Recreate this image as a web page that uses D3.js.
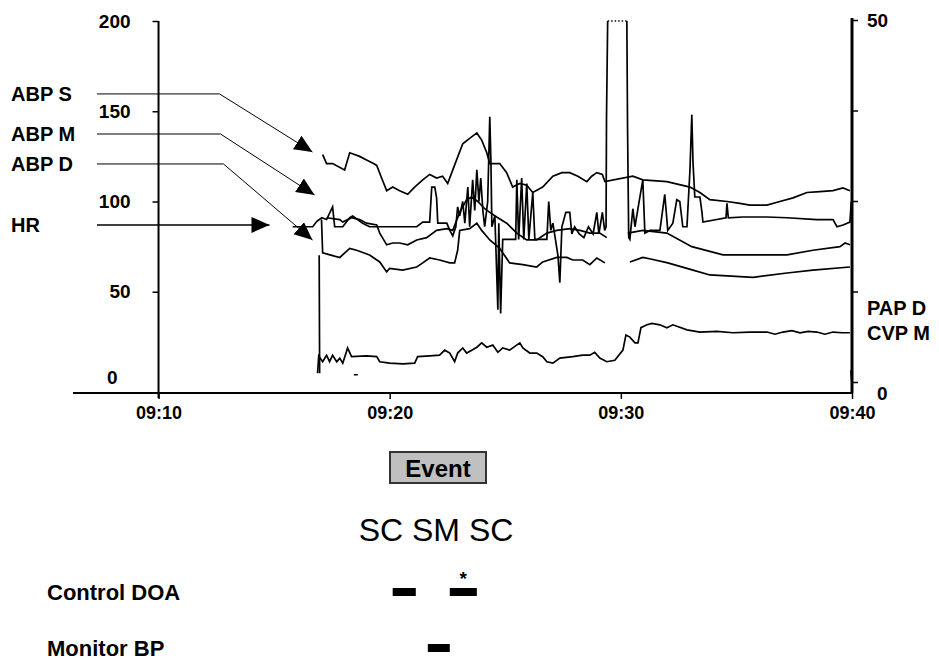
<!DOCTYPE html>
<html>
<head>
<meta charset="utf-8">
<script src="https://cdn.jsdelivr.net/npm/d3@7"></script>
<style>
  body { margin: 0; background: #fff; }
  svg text { font-family: "Liberation Sans", Arial, sans-serif; fill: #000; }
</style>
</head>
<body>
<svg id="chart" width="939" height="660"></svg>
<script>
// times are minutes past 09:00
const xTicks = ["09:10", "09:20", "09:30", "09:40"];
const leftTicks = [0, 50, 100, 150, 200];
const rightTicks = [0, 12.5, 25, 37.5, 50];
const rightTickLabels = [0, 50];

const abpS = [[17.10,126],[17.27,121],[17.53,121],[18.05,117.5],[18.27,127],[18.48,126],[18.70,125],[19.00,123],[19.30,121],[19.44,120],[19.65,113],[19.87,106],[20.13,108],[20.43,106],[20.78,104],[21.08,108],[21.43,112],[21.73,115],[22.03,113],[22.29,114],[22.51,110],[22.73,117.5],[23.16,132],[23.46,135],[23.77,138],[23.98,134],[24.20,127],[24.33,121],[24.76,121],[25.06,116],[25.32,108],[25.63,110],[25.93,109],[26.19,105],[26.62,108],[27.06,114],[27.45,116],[27.79,116],[28.14,114],[28.53,111],[28.74,114],[28.96,116],[29.20,115],[29.31,111],[30.52,114],[30.95,112],[31.99,111],[32.99,108],[33.42,105],[33.85,101],[34.59,100],[35.15,99],[35.58,98],[36.32,98],[36.88,100],[37.45,102],[38.05,105],[38.61,105.5],[39.18,106],[39.61,107.5],[39.91,106]];

const abpM = [[17.27,91],[17.84,90],[17.97,88.6],[18.35,91],[18.70,90],[19.00,88],[19.44,87],[19.57,82.5],[19.87,76],[20.13,77],[20.43,77],[20.78,76],[21.17,78.7],[21.60,80],[22.03,84],[22.47,85],[22.73,84],[23.03,94],[23.33,101],[23.55,102.5],[23.81,100],[24.11,96],[24.33,94],[24.63,91.4],[25.06,88],[25.50,82.5],[25.93,78.7],[26.36,78.7],[26.80,82.5],[27.23,84],[27.79,85],[28.23,84],[28.66,82.5],[29.09,82.5],[29.39,80],[29.40,null],[30.29,null],[30.30,82.5],[30.95,84],[31.99,82.5],[33.07,75],[34.42,70.4],[37.19,70.4],[38.31,73],[39.48,75],[39.70,77],[39.91,76]];

const abpD = [[17.05,90],[17.10,71.5],[17.84,69],[18.27,74],[18.57,73],[19.13,70.4],[19.57,66.5],[19.87,61],[20.00,63],[20.56,62],[21.17,63.7],[21.43,66],[21.73,68.7],[22.16,67.6],[22.60,66],[22.81,66],[22.94,73],[23.03,84],[23.46,85],[23.77,88],[23.98,84],[24.33,78.7],[24.76,74],[25.19,66],[25.76,65],[26.36,63.7],[26.62,66.5],[27.23,69],[27.66,69],[27.92,67.6],[28.35,67.6],[28.66,65],[28.96,68.7],[29.31,66],[29.32,null],[30.38,null],[30.39,66.5],[30.95,69],[31.34,68],[32.03,66],[33.12,62],[33.85,59.3],[35.72,58],[37.19,60.4],[38.31,62],[39.91,63.7]];

const hr = [[15.80,86],[16.67,86],[16.85,89],[17.06,91],[17.27,90],[17.53,97],[17.62,86],[17.97,86],[18.27,91],[18.40,92],[18.83,88],[19.13,86],[21.17,86],[21.43,88.6],[21.73,88.6],[21.82,108],[21.95,108],[22.03,102],[22.08,88],[22.47,88],[22.60,84],[22.73,81],[22.86,86],[22.94,97],[23.03,92],[23.16,100],[23.25,88],[23.38,108],[23.46,86],[23.59,112],[23.68,95],[23.77,117.5],[23.86,100],[23.94,113],[24.03,95],[24.11,86],[24.24,100],[24.33,147],[24.38,122],[24.42,86],[24.55,92],[24.68,40],[24.72,88],[24.80,38],[24.89,79],[25.45,79],[25.50,112],[25.58,79],[25.71,113],[25.80,79],[25.93,110],[26.02,79],[26.19,105],[26.28,79],[26.80,79],[26.88,100],[26.97,84],[27.06,88],[27.28,70],[27.36,55],[27.45,86],[27.62,94],[27.79,94],[27.88,82],[28.00,86],[28.20,82],[28.40,80],[28.60,86],[28.80,82],[28.96,94],[29.05,82],[29.20,94],[29.30,84],[29.36,86],[29.38,147],[29.43,200],[29.44,null],[30.25,null],[30.26,200],[30.29,141],[30.34,80],[30.39,79],[30.52,96],[30.61,86],[30.74,96],[30.95,112],[31.04,82.5],[31.26,84],[31.69,84],[31.90,104],[32.03,84],[32.25,88],[32.42,101],[32.55,100],[32.68,86],[32.86,86],[32.99,117.5],[33.07,148],[33.12,122],[33.20,102.5],[33.42,102.5],[33.51,94],[33.55,88.6],[34.55,91],[34.59,99],[34.65,91],[35.28,91.4],[36.32,91.4],[37.19,91],[38.48,90],[39.18,90],[39.35,86],[39.61,87],[39.91,88.6],[39.97,100]];
// HR above the top of the scale, drawn dotted
const hrOffScale = [[29.43,200],[30.26,200]];

// right axis series
const papD = [[16.95,17.5],[16.97,1.2],[16.98,null],[18.44,null],[18.45,1.0],[18.62,1.0],[18.63,null],[39.94,null],[39.95,1.6],[39.99,0]];
const cvpM = [[16.88,1.2],[16.93,3.6],[17.10,2.8],[17.27,3.7],[17.40,2.8],[17.53,3.7],[17.71,2.8],[17.84,3.3],[17.97,2.6],[18.18,4.7],[18.35,3.5],[19.00,3.6],[19.44,3.5],[19.57,2.8],[20.00,2.6],[20.56,2.5],[21.08,2.6],[21.21,3.5],[21.73,3.6],[22.16,3.7],[22.38,4.4],[22.60,4.0],[22.81,2.8],[22.94,4.0],[23.16,4.7],[23.33,4.0],[23.55,4.4],[23.77,4.8],[23.98,5.4],[24.20,4.8],[24.46,5.1],[24.68,4.1],[24.89,4.7],[25.19,4.4],[25.63,5.4],[25.76,4.7],[26.06,4.0],[26.36,4.0],[26.62,3.5],[26.80,2.8],[27.06,2.6],[27.36,3.3],[27.92,3.5],[28.35,3.7],[28.66,3.7],[28.87,4.1],[29.09,3.3],[29.39,2.8],[29.74,3.0],[30.09,4.4],[30.22,6.5],[30.39,6.2],[30.61,5.4],[30.74,5.4],[30.87,7.5],[31.13,7.9],[31.34,8.1],[31.69,7.9],[31.99,7.5],[32.25,7.9],[32.86,7.2],[33.42,6.9],[34.16,7.0],[34.85,6.8],[35.58,6.9],[36.32,6.9],[36.67,6.6],[37.01,6.9],[37.40,7.1],[37.75,6.8],[38.10,7.0],[38.48,6.9],[38.83,6.6],[39.18,6.9],[39.57,6.8],[39.91,6.8]];

// labels pointing into the chart: label level, bend time, arrow tip (time, value)
const arrowLabels = ["ABP S", "ABP M", "ABP D", "HR"];
const arrowLevels = [159.6, 137.4, 120.8, 87];
const arrowBends = [12.64, 12.68, 12.81, null];
const arrowTips = [[16.66, 127.4], [16.75, 103.6], [16.66, 78.7], [14.8, 87]];

// event rows (start, end in minutes)
const controlDOA = [[20.13, 21.13], [22.60, 23.77]];
const monitorBP = [[21.65, 22.60]];
const starred = [1];

const svg = d3.select("#chart");

const x = d3.scaleLinear().domain([6.3, 40]).range([73, 852]);
const yL = d3.scaleLinear().domain([0, 200]).range([382, 21]);
const yR = d3.scaleLinear().domain([0, 50]).range([382, 20]);
const axisY = 393;
const parseTick = s => { const p = s.split(":"); return (+p[0] - 9) * 60 + +p[1]; };

// x axis
svg.append("line")
  .attr("x1", x(6.3)).attr("x2", x(40))
  .attr("y1", axisY).attr("y2", axisY)
  .attr("stroke", "#000").attr("stroke-width", 2);

const xAxis = svg.append("g")
  .attr("transform", `translate(0,${axisY})`)
  .call(d3.axisBottom(x)
    .tickValues(xTicks.map(parseTick))
    .tickFormat((d, i) => xTicks[i])
    .tickSize(6).tickPadding(7));
xAxis.select(".domain").remove();
xAxis.selectAll("line").attr("stroke-width", 1.5);
xAxis.selectAll("text").attr("font-size", 18).attr("font-weight", "bold");

// left axis
svg.append("line")
  .attr("x1", x(10)).attr("x2", x(10))
  .attr("y1", yL(200)).attr("y2", axisY + 5)
  .attr("stroke", "#000").attr("stroke-width", 2);

const leftAxis = svg.append("g")
  .attr("transform", `translate(${x(10)},0)`)
  .call(d3.axisLeft(yL).tickValues(leftTicks).tickSize(6).tickPadding(22));
leftAxis.select(".domain").remove();
leftAxis.selectAll("line").attr("stroke-width", 1.5).filter(d => d === 0).remove();
leftAxis.selectAll("text").attr("font-size", 19).attr("font-weight", "bold")
  .filter(d => d === 0).attr("dx", -13).attr("dy", "0.1em");

// right axis
svg.append("line")
  .attr("x1", x(40)).attr("x2", x(40))
  .attr("y1", yR(50) - 2).attr("y2", axisY)
  .attr("stroke", "#000").attr("stroke-width", 3);

const rightAxis = svg.append("g")
  .attr("transform", `translate(${x(40)},0)`)
  .call(d3.axisRight(yR).tickValues(rightTicks).tickSize(6).tickPadding(9)
    .tickFormat(d => rightTickLabels.includes(d) ? d : ""));
rightAxis.select(".domain").remove();
rightAxis.selectAll("line").attr("stroke-width", 1.5);
rightAxis.selectAll("text").attr("font-size", 19).attr("font-weight", "bold")
  .filter(d => d === 0).attr("dx", 10).attr("dy", "0.9em");

// series
const lineL = d3.line().defined(d => d[1] != null).x(d => x(d[0])).y(d => yL(d[1]));
const lineR = d3.line().defined(d => d[1] != null).x(d => x(d[0])).y(d => yR(d[1]));

[abpS, abpM, abpD, hr].forEach(s => {
  svg.append("path").datum(s)
    .attr("d", lineL)
    .attr("fill", "none").attr("stroke", "#000").attr("stroke-width", 1.7)
    .attr("stroke-linejoin", "miter");
});
[papD, cvpM].forEach(s => {
  svg.append("path").datum(s)
    .attr("d", lineR)
    .attr("fill", "none").attr("stroke", "#000").attr("stroke-width", 1.7);
});
svg.append("path").datum(hrOffScale)
  .attr("d", lineL)
  .attr("fill", "none").attr("stroke", "#000").attr("stroke-width", 1.5)
  .attr("stroke-dasharray", "1.5,2");

// arrow labels
svg.append("defs").append("marker")
  .attr("id", "head")
  .attr("markerUnits", "userSpaceOnUse")
  .attr("markerWidth", 20).attr("markerHeight", 18)
  .attr("refX", 18).attr("refY", 8)
  .attr("orient", "auto")
  .append("path").attr("d", "M0,0L18,8L0,16Z").attr("fill", "#000");

arrowLabels.forEach((name, i) => {
  const ly = yL(arrowLevels[i]);
  svg.append("text")
    .attr("x", 11).attr("y", ly)
    .attr("dy", "0.36em")
    .attr("font-size", 20).attr("font-weight", "bold")
    .text(name);
  const pts = [[97, ly]];
  if (arrowBends[i] != null) pts.push([x(arrowBends[i]), ly]);
  pts.push([x(arrowTips[i][0]), yL(arrowTips[i][1])]);
  svg.append("path")
    .attr("d", d3.line()(pts))
    .attr("fill", "none").attr("stroke", "#000")
    .attr("stroke-width", i === 3 ? 1.6 : 1)
    .attr("marker-end", "url(#head)");
});

// right labels
svg.append("text").attr("x", 867).attr("y", 308).attr("dy", "0.36em")
  .attr("font-size", 20).attr("font-weight", "bold").text("PAP D");
svg.append("text").attr("x", 867).attr("y", 333).attr("dy", "0.36em")
  .attr("font-size", 20).attr("font-weight", "bold").text("CVP M");

// event box
svg.append("rect")
  .attr("x", 390).attr("y", 452).attr("width", 96).attr("height", 31)
  .attr("fill", "#c0c0c0").attr("stroke", "#333").attr("stroke-width", 2);
svg.append("text").attr("x", 438).attr("y", 468).attr("dy", "0.36em")
  .attr("text-anchor", "middle")
  .attr("font-size", 24).attr("font-weight", "bold").text("Event");

svg.append("text").attr("x", 436).attr("y", 529).attr("dy", "0.36em")
  .attr("text-anchor", "middle")
  .attr("font-size", 32).text("SC SM SC");

// event rows
const rows = [
  { name: "Control DOA", y: 592, spans: controlDOA },
  { name: "Monitor BP", y: 648, spans: monitorBP }
];
rows.forEach(r => {
  svg.append("text").attr("x", 47).attr("y", r.y).attr("dy", "0.36em")
    .attr("font-size", 22).attr("font-weight", "bold").text(r.name);
  svg.selectAll(null).data(r.spans).enter().append("rect")
    .attr("x", d => x(d[0]))
    .attr("width", d => x(d[1]) - x(d[0]))
    .attr("y", r.y - 4).attr("height", 8)
    .attr("fill", "#000");
});
starred.forEach(i => {
  const s = controlDOA[i];
  svg.append("text")
    .attr("x", x((s[0] + s[1]) / 2)).attr("y", 578)
    .attr("dy", "0.36em")
    .attr("text-anchor", "middle")
    .attr("font-size", 19).attr("font-weight", "bold").text("*");
});
</script>
</body>
</html>
